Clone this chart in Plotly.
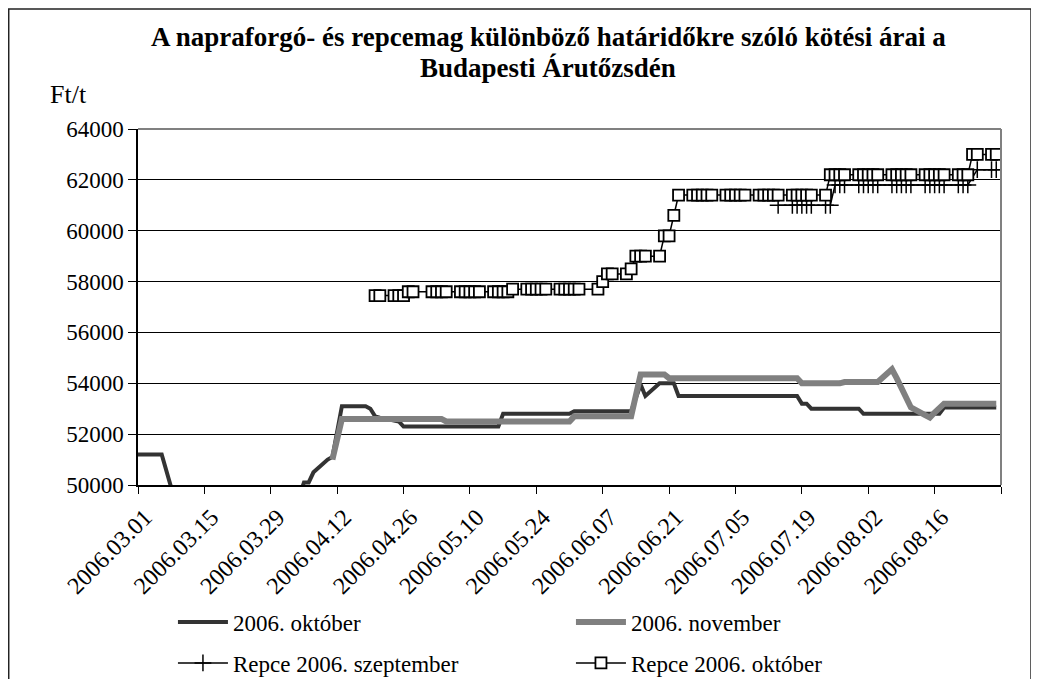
import plotly.graph_objs as go

# Napraforgó 2006. október (line vertices)
okt_dates = ['2006-03-01', '2006-03-06', '2006-03-08', '2006-03-09', '2006-04-03',
             '2006-04-04', '2006-04-05', '2006-04-06', '2006-04-07', '2006-04-10',
             '2006-04-11', '2006-04-13', '2006-04-18', '2006-04-19', '2006-04-20',
             '2006-04-21', '2006-04-25', '2006-04-26', '2006-05-16', '2006-05-17',
             '2006-05-31', '2006-06-01', '2006-06-13', '2006-06-15', '2006-06-16',
             '2006-06-19', '2006-06-22', '2006-06-23', '2006-07-18', '2006-07-19',
             '2006-07-20', '2006-07-21', '2006-07-31', '2006-08-01', '2006-08-17',
             '2006-08-18', '2006-08-29']
okt_prices = [51200, 51200, 49900, 49200, 49000,
              49500, 50100, 50100, 50500, 51000,
              51100, 53100, 53100, 53000, 52700,
              52650, 52500, 52300, 52300, 52800,
              52800, 52900, 52900, 53950, 53500,
              54000, 54000, 53500, 53500, 53200,
              53200, 53000, 53000, 52800, 52800,
              53050, 53050]

# Napraforgó 2006. november
nov_dates = ['2006-04-11', '2006-04-13', '2006-05-04', '2006-05-05', '2006-05-31',
             '2006-06-01', '2006-06-13', '2006-06-15', '2006-06-20', '2006-06-21',
             '2006-07-18', '2006-07-19', '2006-07-27', '2006-07-28', '2006-08-04',
             '2006-08-07', '2006-08-08', '2006-08-09', '2006-08-10', '2006-08-11',
             '2006-08-14', '2006-08-15', '2006-08-16', '2006-08-17', '2006-08-18',
             '2006-08-29']
nov_prices = [51000, 52600, 52600, 52500, 52500,
              52700, 52700, 54350, 54350, 54200,
              54200, 54000, 54000, 54050, 54050,
              54550, 54200, 53850, 53400, 53050,
              52750, 52650, 52850, 53050, 53200,
              53200]

# Repce 2006. szeptember (every trading day)
repce_szept_dates = ['2006-07-14',
                     '2006-07-17', '2006-07-18', '2006-07-19', '2006-07-20', '2006-07-21',
                     '2006-07-24', '2006-07-25', '2006-07-26', '2006-07-27', '2006-07-28',
                     '2006-07-31', '2006-08-01', '2006-08-02', '2006-08-03', '2006-08-04',
                     '2006-08-07', '2006-08-08', '2006-08-09', '2006-08-10', '2006-08-11',
                     '2006-08-14', '2006-08-15', '2006-08-16', '2006-08-17', '2006-08-18',
                     '2006-08-21', '2006-08-22', '2006-08-23', '2006-08-25',
                     '2006-08-28', '2006-08-29']
repce_szept_prices = [61000,
                      61000, 61000, 61000, 61000, 61000,
                      61000, 61000, 61800, 61800, 61800,
                      61800, 61800, 61800, 61800, 61800,
                      61800, 61800, 61800, 61800, 61800,
                      61800, 61800, 61800, 61800, 61800,
                      61800, 61800, 61800, 62400,
                      62400, 62400]

# Repce 2006. október (every trading day)
repce_okt_dates = ['2006-04-20', '2006-04-21',
                   '2006-04-24', '2006-04-25', '2006-04-26', '2006-04-27', '2006-04-28',
                   '2006-05-02', '2006-05-03', '2006-05-04', '2006-05-05',
                   '2006-05-08', '2006-05-09', '2006-05-10', '2006-05-11', '2006-05-12',
                   '2006-05-15', '2006-05-16', '2006-05-17', '2006-05-18', '2006-05-19',
                   '2006-05-22', '2006-05-23', '2006-05-24', '2006-05-25', '2006-05-26',
                   '2006-05-29', '2006-05-30', '2006-05-31', '2006-06-01', '2006-06-02',
                   '2006-06-06', '2006-06-07', '2006-06-08', '2006-06-09',
                   '2006-06-12', '2006-06-13', '2006-06-14', '2006-06-15', '2006-06-16',
                   '2006-06-19', '2006-06-20', '2006-06-21', '2006-06-22', '2006-06-23',
                   '2006-06-26', '2006-06-27', '2006-06-28', '2006-06-29', '2006-06-30',
                   '2006-07-03', '2006-07-04', '2006-07-05', '2006-07-06', '2006-07-07',
                   '2006-07-10', '2006-07-11', '2006-07-12', '2006-07-13', '2006-07-14',
                   '2006-07-17', '2006-07-18', '2006-07-19', '2006-07-20', '2006-07-21',
                   '2006-07-24', '2006-07-25', '2006-07-26', '2006-07-27', '2006-07-28',
                   '2006-07-31', '2006-08-01', '2006-08-02', '2006-08-03', '2006-08-04',
                   '2006-08-07', '2006-08-08', '2006-08-09', '2006-08-10', '2006-08-11',
                   '2006-08-14', '2006-08-15', '2006-08-16', '2006-08-17', '2006-08-18',
                   '2006-08-21', '2006-08-22', '2006-08-23', '2006-08-24', '2006-08-25',
                   '2006-08-28', '2006-08-29']
repce_okt_prices = [57450, 57450,
                    57450, 57450, 57450, 57600, 57600,
                    57600, 57600, 57600, 57600,
                    57600, 57600, 57600, 57600, 57600,
                    57600, 57600, 57600, 57600, 57700,
                    57700, 57700, 57700, 57700, 57700,
                    57700, 57700, 57700, 57700, 57700,
                    57700, 58000, 58300, 58300,
                    58300, 58500, 59000, 59000, 59000,
                    59000, 59800, 59800, 60600, 61400,
                    61400, 61400, 61400, 61400, 61400,
                    61400, 61400, 61400, 61400, 61400,
                    61400, 61400, 61400, 61400, 61400,
                    61400, 61400, 61400, 61400, 61400,
                    61400, 62200, 62200, 62200, 62200,
                    62200, 62200, 62200, 62200, 62200,
                    62200, 62200, 62200, 62200, 62200,
                    62200, 62200, 62200, 62200, 62200,
                    62200, 62200, 62200, 63000, 63000,
                    63000, 63000]

tick_dates = ['2006-03-01', '2006-03-15', '2006-03-29', '2006-04-12', '2006-04-26',
              '2006-05-10', '2006-05-24', '2006-06-07', '2006-06-21', '2006-07-05',
              '2006-07-19', '2006-08-02', '2006-08-16', '2006-08-30']
tick_labels = ['2006.03.01', '2006.03.15', '2006.03.29', '2006.04.12', '2006.04.26',
               '2006.05.10', '2006.05.24', '2006.06.07', '2006.06.21', '2006.07.05',
               '2006.07.19', '2006.08.02', '2006.08.16', '']

FONT = 'Liberation Serif'

trace1 = go.Scatter(x=okt_dates, y=okt_prices, mode='lines',
                    name='2006. október',
                    line=dict(color='#333333', width=4))
trace2 = go.Scatter(x=nov_dates, y=nov_prices, mode='lines',
                    name='2006. november',
                    line=dict(color='#808080', width=6))
trace3 = go.Scatter(x=repce_szept_dates, y=repce_szept_prices, mode='lines+markers',
                    name='Repce 2006. szeptember', legend='legend2',
                    line=dict(color='black', width=1.5),
                    marker=dict(symbol='cross-thin', size=12, color='black',
                                line=dict(color='black', width=1.5)))
trace4 = go.Scatter(x=repce_okt_dates, y=repce_okt_prices, mode='lines+markers',
                    name='Repce 2006. október', legend='legend2',
                    line=dict(color='black', width=1.5),
                    marker=dict(symbol='square', size=11, color='white',
                                line=dict(color='black', width=1.8)))

legend_style = dict(orientation='h', xanchor='left', yanchor='middle',
                    entrywidth=333, entrywidthmode='pixels', itemwidth=50,
                    bgcolor='rgba(0,0,0,0)',
                    font=dict(family=FONT, size=23, color='black'))

# the page body adds an 8px offset, so the figure is 8px smaller than the window
layout = go.Layout(
    width=1031, height=671,
    margin=dict(l=130, r=38, t=121, b=194, autoexpand=False),
    paper_bgcolor='white', plot_bgcolor='white',
    font=dict(family=FONT, color='black'),
    showlegend=True,
    legend=dict(x=0.0405, y=-0.385, **legend_style),
    legend2=dict(x=0.0405, y=-0.5, **legend_style),
    xaxis=dict(type='date', range=['2006-03-01', '2006-08-30'],
               tickvals=tick_dates, ticktext=tick_labels, tickangle=-45,
               ticklabelshift=7,
               ticks='outside', ticklen=7, tickcolor='black',
               showgrid=False, zeroline=False,
               showline=True, linecolor='black', linewidth=1.5,
               tickfont=dict(family=FONT, size=24, color='black')),
    yaxis=dict(range=[50000, 64000], dtick=2000, tickformat='d',
               ticks='outside', ticklen=8, tickcolor='black',
               showgrid=True, gridcolor='black', gridwidth=1, zeroline=False,
               showline=True, linecolor='black', linewidth=1.5,
               tickfont=dict(family=FONT, size=23, color='black')),
    annotations=[
        dict(text='<b>A napraforgó- és repcemag különböző határidőkre szóló kötési árai a</b>',
             xref='paper', yref='paper', x=0.4751, y=1.2584,
             xanchor='center', yanchor='middle', showarrow=False,
             font=dict(family=FONT, size=27, color='black')),
        dict(text='<b>Budapesti Árutőzsdén</b>',
             xref='paper', yref='paper', x=0.4751, y=1.1713,
             xanchor='center', yanchor='middle', showarrow=False,
             font=dict(family=FONT, size=27, color='black')),
        dict(text='Ft/t', xref='paper', yref='paper', x=-0.1043, y=1.0983,
             xanchor='left', yanchor='middle', showarrow=False,
             font=dict(family=FONT, size=26, color='black')),
    ],
    shapes=[
        # outer chart frame
        dict(type='rect', xref='paper', yref='paper', x0=-0.1498, x1=1.0348,
             y0=-0.6, y1=1.3371, line=dict(color='#222222', width=1.5)),
        # grey plot-area border on top and right
        dict(type='line', xref='paper', yref='paper', x0=0, x1=1, y0=1, y1=1,
             line=dict(color='#808080', width=2)),
        dict(type='line', xref='paper', yref='paper', x0=1, x1=1, y0=0, y1=1,
             line=dict(color='#808080', width=2)),
    ],
)

fig = go.Figure(data=[trace1, trace2, trace3, trace4], layout=layout)
fig.write_html('out.html')
